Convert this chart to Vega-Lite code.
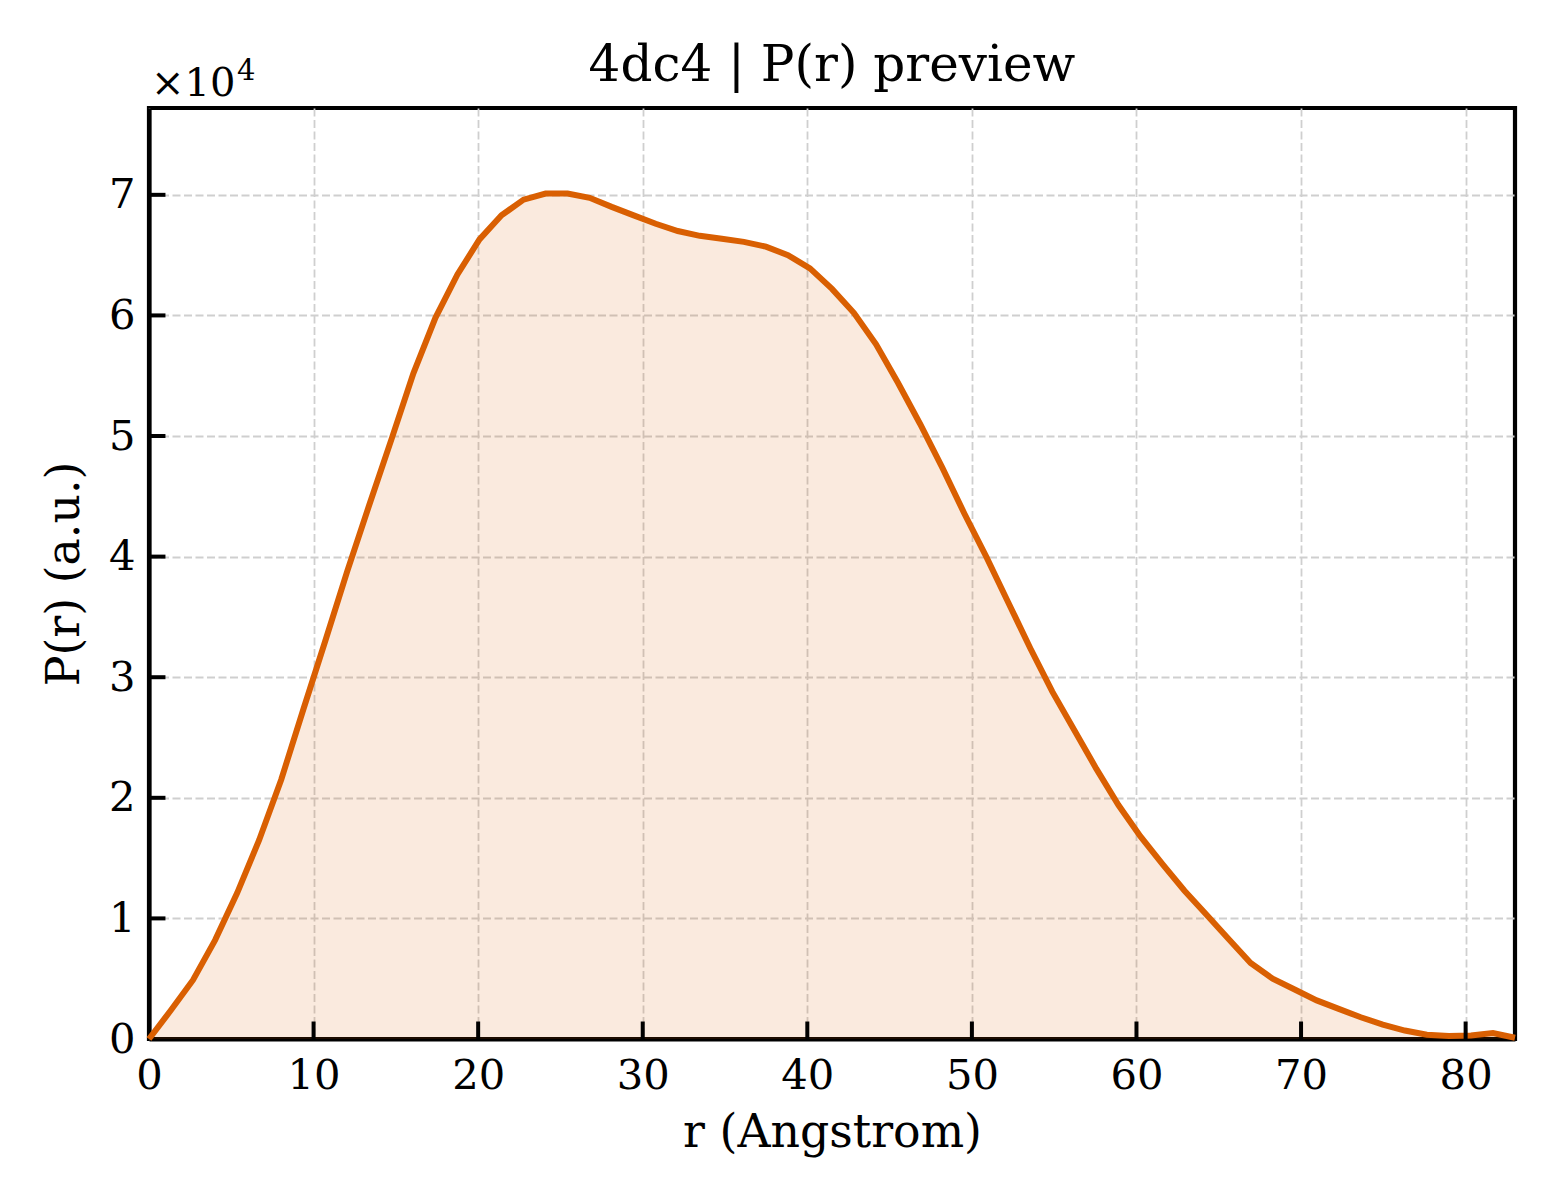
{
  "$schema": "https://vega.github.io/schema/vega-lite/v6.json",
  "width": 1366,
  "height": 931,
  "autosize": {"type": "none"},
  "padding": {"left": 149, "top": 108, "right": 45, "bottom": 161},
  "background": "white",
  "config": {
    "font": "DejaVu Serif",
    "view": {"stroke": "black", "strokeWidth": 4.2},
    "axis": {
      "domainColor": "black",
      "domainWidth": 4.2,
      "labelFont": "DejaVu Serif",
      "labelFontSize": 41.7,
      "labelColor": "black",
      "labelFlush": false,
      "titleFont": "DejaVu Serif",
      "titleFontSize": 45.8,
      "titleFontWeight": "normal",
      "titleColor": "black",
      "gridColor": "#cfcfcf",
      "gridWidth": 1.8,
      "gridDash": [8, 3.5]
    }
  },
  "title": {
    "text": "4dc4 | P(r) preview",
    "font": "DejaVu Serif",
    "fontSize": 50,
    "fontWeight": "normal",
    "color": "black",
    "anchor": "middle",
    "offset": -34
  },
  "datasets": {
    "pr": [
      {"r": 0, "p": 0},
      {"r": 1.339, "p": 2400},
      {"r": 2.677, "p": 4900},
      {"r": 4.016, "p": 8200},
      {"r": 5.355, "p": 12100},
      {"r": 6.694, "p": 16500},
      {"r": 8.032, "p": 21500},
      {"r": 9.371, "p": 27300},
      {"r": 10.71, "p": 33000},
      {"r": 12.048, "p": 38800},
      {"r": 13.387, "p": 44300},
      {"r": 14.726, "p": 49700},
      {"r": 16.065, "p": 55200},
      {"r": 17.403, "p": 59800},
      {"r": 18.742, "p": 63400},
      {"r": 20.081, "p": 66300},
      {"r": 21.419, "p": 68300},
      {"r": 22.758, "p": 69600},
      {"r": 24.097, "p": 70100},
      {"r": 25.435, "p": 70100},
      {"r": 26.774, "p": 69750},
      {"r": 28.113, "p": 69000},
      {"r": 29.452, "p": 68300},
      {"r": 30.79, "p": 67600},
      {"r": 32.129, "p": 67000},
      {"r": 33.468, "p": 66600},
      {"r": 34.806, "p": 66350},
      {"r": 36.145, "p": 66100},
      {"r": 37.484, "p": 65700},
      {"r": 38.823, "p": 65000},
      {"r": 40.161, "p": 63900},
      {"r": 41.5, "p": 62200},
      {"r": 42.839, "p": 60200},
      {"r": 44.177, "p": 57600},
      {"r": 45.516, "p": 54400},
      {"r": 46.855, "p": 51000},
      {"r": 48.194, "p": 47400},
      {"r": 49.532, "p": 43600},
      {"r": 50.871, "p": 40000},
      {"r": 52.21, "p": 36200},
      {"r": 53.548, "p": 32400},
      {"r": 54.887, "p": 28800},
      {"r": 56.226, "p": 25600},
      {"r": 57.565, "p": 22400},
      {"r": 58.903, "p": 19400},
      {"r": 60.242, "p": 16800},
      {"r": 61.581, "p": 14500},
      {"r": 62.919, "p": 12300},
      {"r": 64.258, "p": 10300},
      {"r": 65.597, "p": 8300},
      {"r": 66.935, "p": 6300},
      {"r": 68.274, "p": 5000},
      {"r": 69.613, "p": 4100},
      {"r": 70.952, "p": 3200},
      {"r": 72.29, "p": 2500},
      {"r": 73.629, "p": 1800},
      {"r": 74.968, "p": 1200},
      {"r": 76.306, "p": 700},
      {"r": 77.645, "p": 350},
      {"r": 78.984, "p": 250},
      {"r": 80.323, "p": 300},
      {"r": 81.661, "p": 500},
      {"r": 83.0, "p": 100}
    ],
    "xticks": [
      {"r": 10}, {"r": 20}, {"r": 30}, {"r": 40}, {"r": 50}, {"r": 60}, {"r": 70}, {"r": 80}
    ],
    "yticks": [
      {"p": 10000}, {"p": 20000}, {"p": 30000}, {"p": 40000}, {"p": 50000}, {"p": 60000}, {"p": 70000}
    ]
  },
  "layer": [
    {
      "data": {"name": "pr"},
      "mark": {"type": "area", "color": "#d95f02", "opacity": 0.13},
      "encoding": {
        "x": {
          "field": "r",
          "type": "quantitative",
          "scale": {"domain": [0, 83], "nice": false, "zero": false},
          "axis": {
            "orient": "bottom",
            "values": [0, 10, 20, 30, 40, 50, 60, 70, 80],
            "title": "r (Angstrom)",
            "domain": true,
            "ticks": false,
            "grid": true,
            "labelPadding": 16,
            "titlePadding": 14
          }
        },
        "y": {
          "field": "p",
          "type": "quantitative",
          "scale": {"domain": [0, 77200], "nice": false, "zero": false},
          "axis": {
            "orient": "left",
            "values": [0, 10000, 20000, 30000, 40000, 50000, 60000, 70000],
            "labelExpr": "datum.value / 10000",
            "title": "P(r) (a.u.)",
            "domain": true,
            "ticks": false,
            "grid": true,
            "labelPadding": 14,
            "titlePadding": 20
          }
        }
      }
    },
    {
      "data": {"name": "pr"},
      "mark": {"type": "line", "color": "#d95f02", "strokeWidth": 6},
      "encoding": {
        "x": {"field": "r", "type": "quantitative"},
        "y": {"field": "p", "type": "quantitative"}
      }
    },
    {
      "data": {"name": "xticks"},
      "mark": {"type": "rule", "color": "black", "strokeWidth": 4},
      "encoding": {
        "x": {"field": "r", "type": "quantitative"},
        "y": {"datum": 0, "type": "quantitative"},
        "y2": {"datum": 1450}
      }
    },
    {
      "data": {"name": "yticks"},
      "mark": {"type": "rule", "color": "black", "strokeWidth": 4},
      "encoding": {
        "x": {"datum": 0, "type": "quantitative"},
        "x2": {"datum": 1.0},
        "y": {"field": "p", "type": "quantitative"}
      }
    },
    {
      "data": {"values": [{"t": "×10"}]},
      "mark": {"type": "text", "align": "left", "baseline": "alphabetic", "fontSize": 40, "font": "DejaVu Serif", "color": "black", "dx": 2, "dy": -12},
      "encoding": {
        "x": {"datum": 0, "type": "quantitative"},
        "y": {"datum": 77200, "type": "quantitative"},
        "text": {"field": "t"}
      }
    },
    {
      "data": {"values": [{"t": "4"}]},
      "mark": {"type": "text", "align": "left", "baseline": "alphabetic", "fontSize": 29, "font": "DejaVu Serif", "color": "black", "dx": 88, "dy": -28},
      "encoding": {
        "x": {"datum": 0, "type": "quantitative"},
        "y": {"datum": 77200, "type": "quantitative"},
        "text": {"field": "t"}
      }
    }
  ]
}
